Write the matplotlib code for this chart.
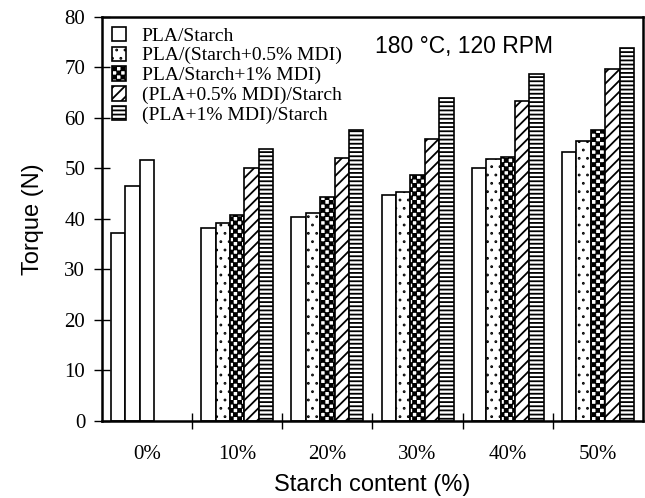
import warnings
import numpy as np
import matplotlib
matplotlib.use("Agg")
import matplotlib.pyplot as plt
import matplotlib.hatch as mhatch
from matplotlib.path import Path

warnings.filterwarnings("ignore")

# data
cats = ['0%', '10%', '20%', '30%', '40%', '50%']
neat = [37.2, 46.6, 51.6]          # 0% starch: PLA, PLA+0.5% MDI, PLA+1% MDI
s1 = [38.2, 40.4, 44.7, 50.0, 53.2]  # PLA/Starch
s2 = [39.3, 41.2, 45.3, 51.9, 55.4]  # PLA/(Starch+0.5% MDI)
s3 = [40.7, 44.3, 48.7, 52.2, 57.7]  # PLA/(Starch+1% MDI)
s4 = [50.0, 52.0, 55.8, 63.4, 69.6]  # (PLA+0.5% MDI)/Starch
s5 = [53.8, 57.6, 63.9, 68.8, 73.9]  # (PLA+1% MDI)/Starch
labels = ['PLA/Starch', 'PLA/(Starch+0.5% MDI)', 'PLA/Starch+1% MDI)',
          '(PLA+0.5% MDI)/Starch', '(PLA+1% MDI)/Starch']


# checkerboard hatch ('c'), matplotlib has none built in
class CheckerHatch(mhatch.HatchPatternBase):
    def __init__(self, hatch, density):
        n = hatch.count('c') * density
        if n % 2:
            n += 1
        self.n = n
        self.num_vertices = (n * n // 2) * 5

    def set_vertices_and_codes(self, vertices, codes):
        s = 1.0 / self.n
        d = 0.4 / 72  # shrink for the stroke
        k = 0
        for i in range(self.n):
            for j in range(self.n):
                if (i + j) % 2 == 0:
                    x0, y0 = i * s + d, j * s + d
                    x1, y1 = (i + 1) * s - d, (j + 1) * s - d
                    vertices[k:k + 5] = [(x0, y0), (x1, y0), (x1, y1), (x0, y1), (x0, y0)]
                    codes[k:k + 5] = [Path.MOVETO, Path.LINETO, Path.LINETO,
                                      Path.LINETO, Path.CLOSEPOLY]
                    k += 5


# small sparse dots ('d')
class TinyDots(mhatch.Circles):
    size = 0.06
    filled = True

    def __init__(self, hatch, density):
        self.num_rows = hatch.count('d') * density
        super().__init__(hatch, density)


mhatch._hatch_types.append(CheckerHatch)
mhatch._hatch_types.append(TinyDots)

plt.rcParams['hatch.linewidth'] = 1.3
serif = ['Liberation Serif', 'DejaVu Serif']
sans = ['Liberation Sans', 'DejaVu Sans']

fig = plt.figure(figsize=(6.45, 4.98), dpi=100)
ax = fig.add_axes([0.158, 0.1546, 0.839, 0.8114])

w = 0.16
hatches = ['', 'dd', 'cccc', '///', '----']
series = [s1, s2, s3, s4, s5]
idx = np.arange(1, len(cats))

# 0% group: plain bars in the first three slots
ax.bar(0 + (np.arange(len(neat)) - 2) * w, neat, w, color='white',
       edgecolor='black', linewidth=1.2)

for k, (vals, h, lab) in enumerate(zip(series, hatches, labels)):
    ax.bar(idx + (k - 2) * w, vals, w, color='white', edgecolor='black',
           linewidth=1.2, hatch=h, label=lab)

ax.set_xlim(-0.5, len(cats) - 0.5)
ax.set_ylim(0, 80)
ax.set_yticks(np.arange(0, 81, 10))
ax.set_xticks(np.arange(0.5, len(cats) - 0.5, 1))
ax.set_xticklabels([])
ax.set_xticks(np.arange(len(cats)), minor=True)
ax.set_xticklabels(cats, minor=True, fontsize=15, family=serif)
for t in ax.get_yticklabels():
    t.set_family(serif)
    t.set_fontsize(15)

ax.tick_params(axis='x', which='major', direction='inout', length=11, width=1)
ax.tick_params(axis='x', which='minor', length=0, pad=17)
ax.tick_params(axis='y', direction='inout', length=12, width=1, pad=6)
for sp in ax.spines.values():
    sp.set_linewidth(1.8)

ax.set_ylabel('Torque (N)', fontsize=17, family=sans)
ax.yaxis.set_label_coords(-0.107, 0.5)
ax.set_xlabel('Starch content (%)', fontsize=17, family=sans)
ax.xaxis.set_label_coords(0.5, -0.13)

ax.text(3.52, 74.2, '180 °C, 120 RPM', fontsize=16.5, family=sans,
        ha='center', va='center')

ax.legend(loc='upper left', frameon=False, prop={'family': serif, 'size': 14},
          handlelength=0.75, handleheight=0.75, handletextpad=0.8,
          labelspacing=0.1, borderaxespad=0.35, borderpad=0.15)

fig.savefig('out.png', dpi=100)
